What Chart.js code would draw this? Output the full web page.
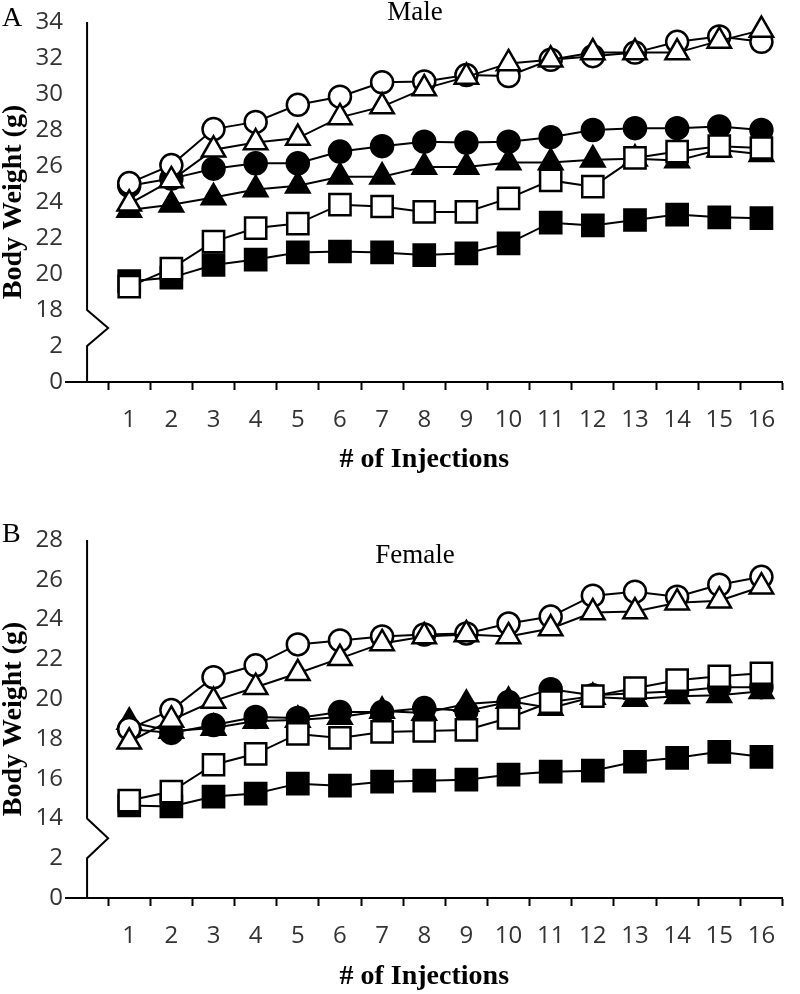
<!DOCTYPE html>
<html>
<head>
<meta charset="utf-8">
<script src="https://cdn.jsdelivr.net/npm/chart.js@4.4.1/dist/chart.umd.min.js"></script>
<style>
  body { margin: 0; background: #fff; }
  #wrap { position: relative; width: 800px; height: 994px; }
  canvas { position: absolute; left: 0; }
</style>
</head>
<body>
<div id="wrap">
  <canvas id="male-chart" width="800" height="477" style="top:0"></canvas>
  <canvas id="female-chart" width="800" height="494" style="top:500px"></canvas>
</div>
<script>
// x categories (first slot is the empty one left of injection 1)
let injections = ['', '1','2','3','4','5','6','7','8','9','10','11','12','13','14','15','16'];

// broken y axis: tick labels, one per unit step
let maleTicks = ['0','2','18','20','22','24','26','28','30','32','34'];
let femaleTicks = ['0','2','14','16','18','20','22','24','26','28'];

// male body weight (g)
let maleOpenCircle = [25.05, 26.05, 28.05, 28.45, 29.4, 29.85, 30.65, 30.7, 31.05, 31.0, 31.9, 32.1, 32.3, 32.9, 33.2, 32.9];
let maleOpenTriangle = [23.9, 25.2, 26.9, 27.3, 27.55, 28.7, 29.3, 30.3, 30.95, 31.7, 31.9, 32.3, 32.3, 32.3, 32.95, 33.55];
let maleFilledCircle = [24.9, 25.3, 25.85, 26.15, 26.15, 26.8, 27.1, 27.35, 27.3, 27.35, 27.6, 28.0, 28.1, 28.1, 28.2, 28.0];
let maleFilledTriangle = [23.55, 23.85, 24.25, 24.7, 24.9, 25.4, 25.4, 25.95, 25.95, 26.2, 26.2, 26.35, 26.4, 26.3, 26.9, 26.65];
let maleOpenSquare = [19.3, 20.3, 21.8, 22.55, 22.8, 23.85, 23.75, 23.45, 23.45, 24.2, 25.2, 24.85, 26.45, 26.8, 27.1, 27.0];
let maleFilledSquare = [19.6, 19.8, 20.5, 20.8, 21.2, 21.25, 21.2, 21.05, 21.15, 21.7, 22.85, 22.7, 23.0, 23.3, 23.15, 23.1];

// female body weight (g)
let femaleOpenCircle = [18.5, 19.45, 21.1, 21.7, 22.75, 22.95, 23.15, 23.25, 23.3, 23.8, 24.15, 25.2, 25.4, 25.15, 25.75, 26.15];
let femaleOpenTriangle = [17.85, 18.95, 19.9, 20.6, 21.3, 22.05, 22.8, 23.15, 23.25, 23.15, 23.55, 24.35, 24.4, 24.85, 24.95, 25.65];
let femaleFilledCircle = [18.5, 18.3, 18.7, 19.1, 19.05, 19.35, 19.35, 19.55, 19.4, 19.85, 20.5, 20.2, 20.3, 20.4, 20.6, 20.6];
let femaleFilledTriangle = [18.85, 18.4, 18.55, 18.9, 18.95, 19.1, 19.4, 19.3, 19.75, 19.9, 19.55, 20.1, 20.0, 20.15, 20.2, 20.4];
let femaleOpenSquare = [14.9, 15.35, 16.7, 17.25, 18.25, 18.05, 18.35, 18.4, 18.45, 19.05, 19.85, 20.15, 20.55, 20.95, 21.15, 21.3];
let femaleFilledSquare = [14.65, 14.6, 15.1, 15.25, 15.75, 15.65, 15.85, 15.9, 15.95, 16.2, 16.35, 16.4, 16.85, 17.05, 17.35, 17.1];

// value -> position on the broken axis (0, 2, then break, then 2 g per step)
function broken(values, breakAt) {
  return [null].concat(values.map(v => 2 + (v - breakAt) / 2));
}

function series(data, style, fill, radius) {
  return {
    data: data,
    borderColor: '#000',
    borderWidth: 2,
    pointStyle: style,
    pointRadius: radius,
    pointBackgroundColor: fill,
    pointBorderColor: '#000',
    pointBorderWidth: 2.5,
    tension: 0,
    fill: false,
    clip: false
  };
}

let serif = '"Liberation Serif", "DejaVu Serif", serif';
let sans = '"Open Sans", "Liberation Sans", sans-serif';

let brokenAxis = {
  id: 'brokenAxis',
  beforeDatasetsDraw(chart) {
    let ctx = chart.ctx;
    let x = chart.scales.x, y = chart.scales.y;
    let ax = x.getPixelForValue(0);
    let half = (x.getPixelForValue(1) - ax) / 2;
    ctx.save();
    ctx.strokeStyle = '#000';
    ctx.lineWidth = 2;
    ctx.beginPath();
    ctx.moveTo(ax, y.getPixelForValue(y.max));
    ctx.lineTo(ax, y.getPixelForValue(2));
    ctx.lineTo(ax + half, y.getPixelForValue(1.5));
    ctx.lineTo(ax, y.getPixelForValue(1));
    ctx.lineTo(ax, y.getPixelForValue(0));
    ctx.stroke();
    ctx.restore();
  },
  afterDraw(chart, args, opts) {
    let ctx = chart.ctx;
    ctx.save();
    ctx.fillStyle = '#000';
    ctx.textBaseline = 'alphabetic';
    ctx.font = '28px ' + serif;
    ctx.textAlign = 'left';
    ctx.fillText(opts.letter, 2, opts.letterY);
    ctx.font = '27px ' + serif;
    ctx.textAlign = 'center';
    ctx.fillText(opts.name, 415, opts.nameY);
    ctx.restore();
  }
};

function makeChart(id, ticks, max, breakAt, sets, xHeight, titlePad, text) {
  return new Chart(document.getElementById(id).getContext('2d'), {
    type: 'line',
    data: {
      labels: injections,
      datasets: [
        series(broken(sets[4], breakAt), 'rect', '#fff', 15),
        series(broken(sets[1], breakAt), 'triangle', '#fff', 13.5),
        series(broken(sets[0], breakAt), 'circle', '#fff', 11),
        series(broken(sets[5], breakAt), 'rect', '#000', 15),
        series(broken(sets[3], breakAt), 'triangle', '#000', 13.5),
        series(broken(sets[2], breakAt), 'circle', '#000', 11)
      ]
    },
    plugins: [brokenAxis],
    options: {
      responsive: false,
      animation: false,
      layout: { padding: { top: text.top, right: 2, left: 0, bottom: 0 } },
      scales: {
        x: {
          offset: true,
          afterFit(scale) { scale.height = xHeight; },
          grid: {
            offset: true,
            drawOnChartArea: false,
            drawTicks: true,
            tickLength: 8,
            tickWidth: 2,
            tickColor: c => c.index === 0 ? 'rgba(0,0,0,0)' : '#000'
          },
          border: { display: true, color: '#000', width: 2 },
          ticks: {
            autoSkip: false,
            maxRotation: 0,
            padding: 16,
            color: '#333',
            font: { family: sans, size: 24 }
          },
          title: {
            display: true,
            text: '# of Injections',
            color: '#000',
            font: { family: serif, size: 28, weight: 'bold', lineHeight: 1 },
            padding: { top: 0, bottom: titlePad }
          }
        },
        y: {
          min: 0,
          max: max,
          afterFit(scale) { scale.width = 66; },
          grid: { display: false, drawTicks: false },
          border: { display: false },
          ticks: {
            stepSize: 1,
            autoSkip: false,
            padding: 3,
            color: '#333',
            font: { family: sans, size: 24 },
            callback: v => ticks[v]
          },
          title: {
            display: true,
            text: 'Body Weight (g)',
            color: '#000',
            font: { family: serif, size: 28, weight: 'bold', lineHeight: 1 },
            padding: { top: 0, bottom: 0 }
          }
        }
      },
      plugins: {
        legend: { display: false },
        tooltip: { enabled: false },
        brokenAxis: text
      }
    }
  });
}

let maleChart = makeChart('male-chart', maleTicks, 10, 18,
  [maleOpenCircle, maleOpenTriangle, maleFilledCircle, maleFilledTriangle, maleOpenSquare, maleFilledSquare],
  95, 3, { top: 22, letter: 'A', letterY: 26, name: 'Male', nameY: 20 });

let femaleChart = makeChart('female-chart', femaleTicks, 9, 14,
  [femaleOpenCircle, femaleOpenTriangle, femaleFilledCircle, femaleFilledTriangle, femaleOpenSquare, femaleFilledSquare],
  96, 3, { top: 40, letter: 'B', letterY: 42, name: 'Female', nameY: 63 });
</script>
</body>
</html>
